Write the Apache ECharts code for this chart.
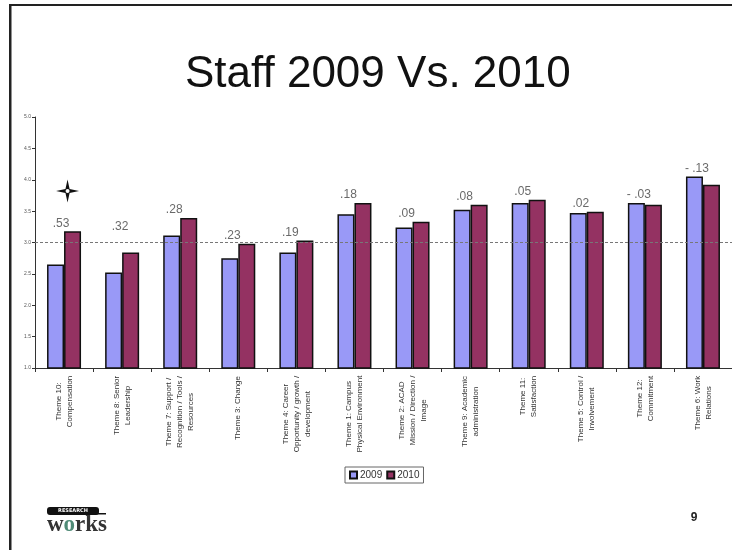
<!DOCTYPE html>
<html>
<head>
<meta charset="utf-8">
<script src="https://cdn.jsdelivr.net/npm/echarts@6/dist/echarts.min.js"></script>
<style>html,body{margin:0;padding:0;background:#fff}#c{width:732px;height:550px}</style>
</head>
<body>
<div id="c"></div>
<script>
const categories = [
  "Theme 10:\nCompensation",
  "Theme 8: Senior\nLeadership",
  "Theme 7: Support /\nRecognition / Tools /\nResources",
  "Theme 3: Change",
  "Theme 4: Career\nOpportunity / growth /\ndevelopment",
  "Theme 1: Campus\nPhysical Environment",
  "Theme 2: ACAD\nMission / Direction /\nImage",
  "Theme 9: Academic\nadministration",
  "Theme 11:\nSatisfaction",
  "Theme 5: Control /\nInvolvement",
  "Theme 12:\nCommitment",
  "Theme 6: Work\nRelations"
];
const values2009 = [2.65, 2.52, 3.11, 2.75, 2.84, 3.45, 3.24, 3.52, 3.63, 3.47, 3.63, 4.05];
const values2010 = [3.18, 2.84, 3.39, 2.98, 3.03, 3.63, 3.33, 3.60, 3.68, 3.49, 3.60, 3.92];
const diffLabels = [".53", ".32", ".28", ".23", ".19", ".18", ".09", ".08", ".05", ".02", "- .03", "- .13"];
const yTicks = ["1.0","1.5","2.0","2.5","3.0","3.5","4.0","4.5","5.0"];
const referenceLevel = 3.0;
const starLevel = 3.82;

const FONT = '"Liberation Sans", Arial, sans-serif';
const chart = echarts.init(document.getElementById('c'));

// measure widths so multi-line axis labels are centered line-by-line
const ctx = document.createElement('canvas').getContext('2d');
ctx.font = '8px "Liberation Sans"';
const rich = {};
categories.forEach((c, i) => {
  const w = Math.max(...c.split('\n').map(l => ctx.measureText(l).width));
  rich['c' + i] = { width: Math.ceil(w) + 1, align: 'center', fontSize: 8, lineHeight: 11, color: '#333', fontFamily: FONT };
});

const topValues = values2009.map((v, i) => Math.max(v, values2010[i]));

const option = {
  animation: false,
  textStyle: { fontFamily: FONT },
  title: {
    text: 'Staff 2009 Vs. 2010',
    left: 180, top: 48,
    textStyle: { fontSize: 44, fontWeight: 'normal', color: '#111', fontFamily: FONT }
  },
  legend: {
    data: ['2009', '2010'],
    left: 345, top: 467,
    itemWidth: 7, itemHeight: 7, itemGap: 4,
    padding: [3, 4],
    borderColor: '#666', borderWidth: 1,
    icon: 'rect',
    textStyle: { fontSize: 10, color: '#333', padding: [0, 0, 0, -2] }
  },
  grid: { left: 35, top: 117, width: 700, height: 251 },
  xAxis: {
    type: 'category',
    data: categories,
    axisLine: { lineStyle: { color: '#333', width: 1 } },
    axisTick: { show: true, length: 4, lineStyle: { color: '#333' } },
    axisLabel: {
      interval: 0, rotate: 90, margin: 7,
      formatter: (v, i) => v.split('\n').map(l => '{c' + i + '|' + l + '}').join('\n'),
      rich: rich
    }
  },
  yAxis: {
    type: 'value', min: 1, max: 5, interval: 0.5,
    splitLine: { show: false },
    axisLine: { show: true, lineStyle: { color: '#333' } },
    axisTick: { show: true, length: 3, lineStyle: { color: '#333' } },
    axisLabel: { fontSize: 5, color: '#555', margin: 4, formatter: v => yTicks[Math.round((v - 1) * 2)] }
  },
  series: [
    {
      name: '2009', type: 'bar', data: values2009,
      barWidth: 17, barGap: '0%',
      itemStyle: { color: '#9999f7', borderColor: '#111', borderWidth: 1.5 },
      markLine: {
        silent: true, symbol: 'none', label: { show: false },
        lineStyle: { color: '#777', type: [3, 2], width: 1 },
        data: [{ yAxis: referenceLevel }]
      }
    },
    {
      name: '2010', type: 'bar', data: values2010,
      barWidth: 17,
      itemStyle: { color: '#943262', borderColor: '#111', borderWidth: 1.5 },
      markPoint: {
        silent: true,
        data: [
          { coord: [categories[0], starLevel], symbol: 'path://M0,-10 L1.8,-1.8 L10,0 L1.8,1.8 L0,10 L-1.8,1.8 L-10,0 L-1.8,-1.8 Z', symbolSize: [23, 23], symbolOffset: [-5, 0], itemStyle: { color: '#111' }, label: { show: false } },
          { coord: [categories[0], starLevel], symbol: 'circle', symbolSize: 4, symbolOffset: [-5, 0], itemStyle: { color: '#fff' }, label: { show: false } }
        ]
      }
    },
    {
      name: 'diff', type: 'scatter', silent: true,
      symbolSize: 0,
      data: topValues.map((v, i) => ({
        value: v,
        label: i === 1 ? { offset: [-2, -18] } : (i === 0 ? { offset: [-3, 0] } : {})
      })),
      label: {
        show: true, position: 'top', distance: 2, offset: [-6, 0],
        fontSize: 12, color: '#444',
        formatter: p => diffLabels[p.dataIndex]
      }
    }
  ],
  graphic: [
    { type: 'rect', shape: { x: 9, y: 4, width: 730, height: 2 }, style: { fill: '#222' } },
    { type: 'rect', shape: { x: 9, y: 4, width: 2.5, height: 550 }, style: { fill: '#222' } },
    { type: 'text', style: { x: 694, y: 518, text: '9', font: 'bold 12px "Liberation Sans"', fill: '#222', textAlign: 'center', textVerticalAlign: 'middle' } },
    { type: 'rect', shape: { x: 47, y: 507, width: 52, height: 8, r: 3 }, style: { fill: '#111' } },
    { type: 'rect', shape: { x: 95, y: 513, width: 11, height: 1.5 }, style: { fill: '#111' } },
    { type: 'text', style: { x: 73, y: 511, text: 'RESEARCH', font: 'bold 5px "DejaVu Sans"', fill: '#fff', textAlign: 'center', textVerticalAlign: 'middle' } },
    { type: 'text', style: { x: 77, y: 525, text: '{a|w}{b|o}{a|rks}', textAlign: 'center', textVerticalAlign: 'middle',
      rich: { a: { font: 'bold 23px "Liberation Serif"', fill: '#333' }, b: { font: 'bold 23px "Liberation Serif"', fill: '#4f8a76' } } } }
  ]
};
chart.setOption(option);
</script>
</body>
</html>
